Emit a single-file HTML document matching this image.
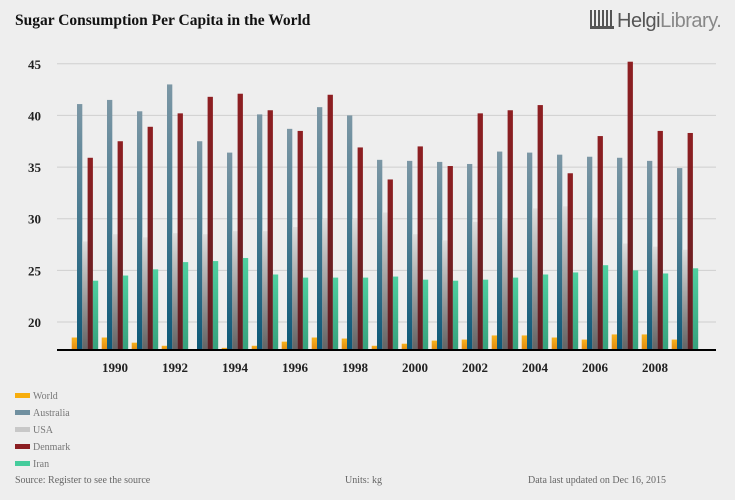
<!DOCTYPE html>
<html><head><meta charset="utf-8"><style>
body{margin:0;background:#eeeeee;font-family:"Liberation Serif",serif}
#wrap{position:relative;width:735px;height:500px;overflow:hidden;background:#eeeeee}
.t{position:absolute;white-space:nowrap}
</style></head><body>
<div id="wrap">
<div class="t" style="left:15px;top:12px;font-size:15.5px;font-weight:bold;color:#111">Sugar Consumption Per Capita in the World</div>
<div class="t" style="left:590px;top:10px;font-family:'Liberation Sans',sans-serif;font-size:20px;color:#555;letter-spacing:-0.5px"><span style="display:inline-block;width:24px;height:16px;border-bottom:3px solid #555;vertical-align:-2px;margin-right:3px;background:repeating-linear-gradient(90deg,#555 0 2px,transparent 2px 4px)"></span>Helgi<span style="color:#888">Library.</span></div>
<svg id="chart" width="735" height="500" style="position:absolute;left:0;top:0">
<defs>
<linearGradient id="gAus" x1="0" y1="0" x2="0" y2="1"><stop offset="0" stop-color="#7c97a5"/><stop offset="1" stop-color="#0b5878"/></linearGradient>
<linearGradient id="gUsa" x1="0" y1="0" x2="0" y2="1"><stop offset="0" stop-color="#dedede"/><stop offset="1" stop-color="#636363"/></linearGradient>
<linearGradient id="gDen" x1="0" y1="0" x2="0" y2="1"><stop offset="0" stop-color="#8e1f22"/><stop offset="1" stop-color="#5c2024"/></linearGradient>
<linearGradient id="gIrn" x1="0" y1="0" x2="0" y2="1"><stop offset="0" stop-color="#4fd0a0"/><stop offset="1" stop-color="#37a07c"/></linearGradient>
<linearGradient id="gWld" x1="0" y1="0" x2="0" y2="1"><stop offset="0" stop-color="#f7b21e"/><stop offset="1" stop-color="#e08a10"/></linearGradient>
</defs>
<g id="grid"></g><g id="bars"></g><g id="axis"></g>
</svg>
<div id="legend"></div>
<div class="t" style="left:15px;top:475px;font-size:10px;color:#666">Source: Register to see the source</div>
<div class="t" style="left:345px;top:475px;font-size:10px;color:#666">Units: kg</div>
<div class="t" style="left:528px;top:475px;font-size:10px;color:#666">Data last updated on Dec 16, 2015</div>
</div>
<script>
const years=[1989,1990,1991,1992,1993,1994,1995,1996,1997,1998,1999,2000,2001,2002,2003,2004,2005,2006,2007,2008,2009];
const world=[18.5,18.5,18.0,17.7,17.35,17.5,17.7,18.1,18.5,18.4,17.7,17.9,18.2,18.3,18.7,18.7,18.5,18.3,18.8,18.8,18.3];
const australia=[41.1,41.5,40.4,43.0,37.5,36.4,40.1,38.7,40.8,40.0,35.7,35.6,35.5,35.3,36.5,36.4,36.2,36.0,35.9,35.6,34.9];
const usa=[27.8,28.5,28.2,28.6,28.5,28.8,28.8,29.2,30.0,30.0,30.6,28.5,27.9,29.7,30.0,31.0,31.2,30.1,27.6,27.3,27.0];
const denmark=[35.9,37.5,38.9,40.2,41.8,42.1,40.5,38.5,42.0,36.9,33.8,37.0,35.1,40.2,40.5,41.0,34.4,38.0,45.2,38.5,38.3];
const iran=[24.0,24.5,25.1,25.8,25.9,26.2,24.6,24.3,24.3,24.3,24.4,24.1,24.0,24.1,24.3,24.6,24.8,25.5,25.0,24.7,25.2];
const yTicks=[20,25,30,35,40,45];
const xTickYears=[1990,1992,1994,1996,1998,2000,2002,2004,2006,2008];
const seriesNames=["World","Australia","USA","Denmark","Iran"];

const NS="http://www.w3.org/2000/svg";
const yMin=17.32, pxPerUnit=10.33, baseY=349.7;
function yS(v){return baseY-(v-yMin)*pxPerUnit;}
function xS(i){return 71.7+i*30;}
const barW=5.3;
const series=[[world,"url(#gWld)","#f7ad0c"],[australia,"url(#gAus)","#7090a0"],[usa,"url(#gUsa)","#c8c8c8"],[denmark,"url(#gDen)","#8b1e22"],[iran,"url(#gIrn)","#45cc9c"]];
const grid=document.getElementById('grid'),bars=document.getElementById('bars'),axis=document.getElementById('axis');
yTicks.forEach(v=>{
 const l=document.createElementNS(NS,'line');
 l.setAttribute('x1',57);l.setAttribute('x2',716);l.setAttribute('y1',yS(v));l.setAttribute('y2',yS(v));
 l.setAttribute('stroke','#cfcfcf');l.setAttribute('stroke-width','1');
 
 
 grid.appendChild(l);
 const t=document.createElementNS(NS,'text');
 t.setAttribute('x',28);t.setAttribute('y',yS(v)+5);t.setAttribute('font-size','13');t.setAttribute('font-weight','bold');t.setAttribute('fill','#222');t.setAttribute('font-family','Liberation Serif, serif');
 t.textContent=v;
 
 
 axis.appendChild(t);
});
years.forEach((yr,i)=>{
 series.forEach((s,k)=>{
  const v=s[0][i];const r=document.createElementNS(NS,'rect');
  const top=yS(v);
  r.setAttribute('x',xS(i)+k*barW);r.setAttribute('y',top);r.setAttribute('width',barW);r.setAttribute('height',Math.max(0,baseY-top));
  r.setAttribute('fill',s[1]);
  
  
  bars.appendChild(r);
 });
});
const ax=document.createElementNS(NS,'line');
ax.setAttribute('x1',57);ax.setAttribute('x2',716);ax.setAttribute('y1',350);ax.setAttribute('y2',350);ax.setAttribute('stroke','#000');ax.setAttribute('stroke-width','2');


axis.appendChild(ax);
xTickYears.forEach(yr=>{
 const i=years.indexOf(yr);
 const t=document.createElementNS(NS,'text');
 t.setAttribute('x',xS(i)+13.3);t.setAttribute('y',372);t.setAttribute('text-anchor','middle');t.setAttribute('font-size','13');t.setAttribute('font-weight','bold');t.setAttribute('fill','#222');t.setAttribute('font-family','Liberation Serif, serif');
 t.textContent=yr;
 
 
 axis.appendChild(t);
});
const lg=document.getElementById('legend');
seriesNames.forEach((n,k)=>{
 const d=document.createElement('div');d.className='t';
 d.style.left='15px';d.style.top=(391+k*17)+'px';d.style.fontSize='10px';d.style.color='#777';
 d.innerHTML='<span style="display:inline-block;width:15px;height:5px;background:'+series[k][2]+';margin-right:3px;vertical-align:1px"></span>'+n;
 
 
 lg.appendChild(d);
});
</script>
</body></html>
